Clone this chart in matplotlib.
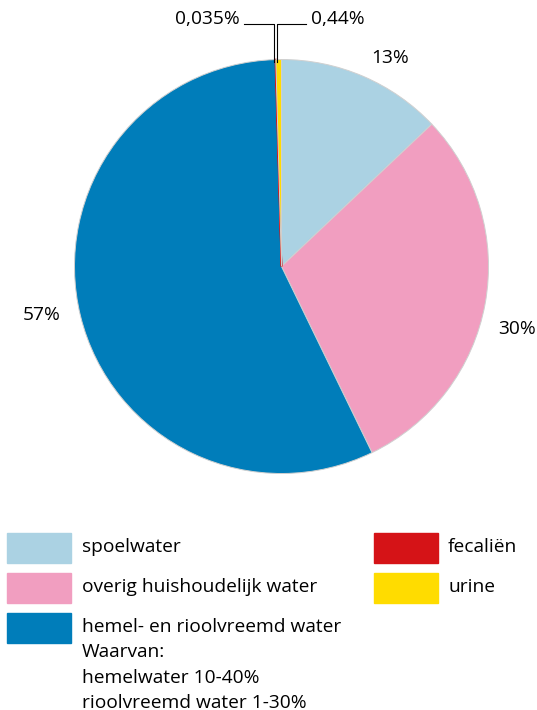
import matplotlib.pyplot as plt
from matplotlib.patches import Rectangle

plt.rcParams['font.family'] = ['Open Sans', 'DejaVu Sans']

# slices, clockwise from 12 o'clock
names = ["spoelwater", "overig huishoudelijk water", "hemel- en rioolvreemd water", "fecaliën", "urine"]
values = [13, 30, 57, 0.035, 0.44]
labels = ["13%", "30%", "57%", "0,035%", "0,44%"]
colors = ["#abd2e3", "#f19ec0", "#007dba", "#d51317", "#ffdc00"]

legend_left = ["spoelwater", "overig huishoudelijk water",
               "hemel- en rioolvreemd water\nWaarvan:\nhemelwater 10-40%\nrioolvreemd water 1-30%"]
legend_left_colors = ["#abd2e3", "#f19ec0", "#007dba"]
legend_right = ["fecaliën", "urine"]
legend_right_colors = ["#d51317", "#ffdc00"]

W, H = 537, 710
fig = plt.figure(figsize=(W / 100, H / 100), dpi=100)

cx, cy, r = 281.5, 266.5, 207
ax = fig.add_axes([(cx - r) / W, (H - cy - r) / H, 2 * r / W, 2 * r / H])
wedges, _ = ax.pie(values, colors=colors, startangle=90, counterclock=False,
                   wedgeprops=dict(edgecolor="#d0d0d0", linewidth=0.7))
# make the tiny fecal slice visible
wedges[3].set_edgecolor("#d51317")
wedges[3].set_linewidth(1.2)
ax.set_xlim(-1, 1)
ax.set_ylim(-1, 1)
ax.set_aspect("auto")
ax.axis("off")

fs = 13.8


def px(x, y):
    return x / W, 1 - y / H


# main percentages
fig.text(*px(390, 58), labels[0], fontsize=fs, ha="center", va="center")
fig.text(*px(517, 329), labels[1], fontsize=fs, ha="center", va="center")
fig.text(*px(42, 315), labels[2], fontsize=fs, ha="center", va="center")

# leader lines for the small slices
fig.text(*px(240, 19), labels[3], fontsize=fs, ha="right", va="center")
fig.text(*px(311, 19), labels[4], fontsize=fs, ha="left", va="center")
fig.add_artist(plt.Line2D([244 / W, 273.5 / W, 273.5 / W], [1 - 24 / H, 1 - 24 / H, 1 - 62 / H],
                          color="black", lw=0.8, transform=fig.transFigure))
fig.add_artist(plt.Line2D([306 / W, 277 / W, 277 / W], [1 - 24 / H, 1 - 24 / H, 1 - 62 / H],
                          color="black", lw=0.8, transform=fig.transFigure))

# legend
rows_y = [548, 588, 628]
for name, col, y in zip(legend_left, legend_left_colors, rows_y):
    fig.add_artist(Rectangle(px(7, y + 15), 64 / W, 30 / H, color=col, transform=fig.transFigure))
    fig.text(*px(82, y - 10), name, fontsize=fs, ha="left", va="top", linespacing=1.52)
for name, col, y in zip(legend_right, legend_right_colors, rows_y):
    fig.add_artist(Rectangle(px(374, y + 15), 64 / W, 30 / H, color=col, transform=fig.transFigure))
    fig.text(*px(448, y - 10), name, fontsize=fs, ha="left", va="top")

fig.savefig("out.png", dpi=100)
